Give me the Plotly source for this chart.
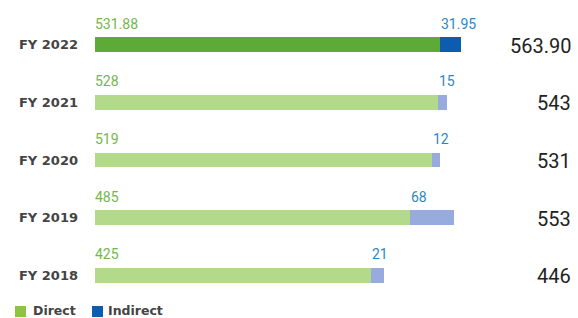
import plotly.graph_objects as go

years = ["FY 2018", "FY 2019", "FY 2020", "FY 2021", "FY 2022"]
direct = [425, 485, 519, 528, 531.88]
indirect = [21, 68, 12, 15, 31.95]
direct_labels = ["425", "485", "519", "528", "531.88"]
indirect_labels = ["21", "68", "12", "15", "31.95"]
totals = ["446", "553", "531", "543", "563.90"]

direct_colors = ["#b3d98b", "#b3d98b", "#b3d98b", "#b3d98b", "#5eaa37"]
indirect_colors = ["#97abdf", "#97abdf", "#97abdf", "#97abdf", "#0c5db0"]
legend_names = ["Direct", "Indirect"]
legend_colors = ["#8cc63f", "#0c5db0"]

W, H = 578, 318
ML, MR, MT, MB = 95, 5, 16, 14
pw, ph = W - ML - MR, H - MT - MB


def px_x(x):
    return (x - ML) / pw


def px_y(y):
    return (H - MB - y) / ph


fig = go.Figure()
fig.add_trace(go.Bar(y=years, x=direct, orientation="h", marker=dict(color=direct_colors, line=dict(width=0)),
                     width=0.26, showlegend=False, hoverinfo="skip"))
fig.add_trace(go.Bar(y=years, x=indirect, orientation="h", marker=dict(color=indirect_colors, line=dict(width=0)),
                     width=0.26, showlegend=False, hoverinfo="skip"))

for i, y in enumerate(years):
    fig.add_annotation(x=0, y=y, xref="x", yref="y", text=direct_labels[i], showarrow=False,
                       xanchor="left", yanchor="middle", yshift=21, xshift=-2,
                       font=dict(size=14, color="#72b84a", family="Roboto"))
    fig.add_annotation(x=direct[i], y=y, xref="x", yref="y", text=indirect_labels[i], showarrow=False,
                       xanchor="left", yanchor="middle", yshift=21, xshift=-1,
                       font=dict(size=14, color="#2f86c6", family="Roboto"))
    fig.add_annotation(x=1, y=y, xref="paper", yref="y", text=totals[i], showarrow=False,
                       xanchor="right", yanchor="middle", yshift=-1,
                       font=dict(size=20, color="#222222", family="Roboto"))

# legend (squares + labels)
sq_left = [15, 92]
txt_left = [31, 106]
for name, col, sx, tx in zip(legend_names, legend_colors, sq_left, txt_left):
    fig.add_shape(type="rect", xref="paper", yref="paper",
                  x0=px_x(sx), x1=px_x(sx + 11), y0=px_y(317), y1=px_y(306),
                  fillcolor=col, line=dict(width=0), layer="above")
    fig.add_annotation(x=px_x(tx), y=px_y(310), xref="paper", yref="paper", text=name,
                       showarrow=False, xanchor="left", yanchor="middle",
                       font=dict(size=12.5, color="#444444", family="DejaVu Sans", weight="bold"))

fig.update_layout(
    width=W, height=H,
    barmode="stack",
    margin=dict(l=ML, r=MR, t=MT, b=MB, autoexpand=False),
    plot_bgcolor="white", paper_bgcolor="white",
    showlegend=False,
    xaxis=dict(range=[0, 736.5], visible=False, fixedrange=True),
    yaxis=dict(categoryorder="array", categoryarray=years, range=[-0.5, 4.5],
               showgrid=False, zeroline=False, showline=False, ticks="",
               ticklabelstandoff=16, fixedrange=True,
               tickfont=dict(size=13, color="#444444", family="DejaVu Sans", weight="bold")),
    font=dict(family="Roboto"),
)

fig.write_html("out.html", config={"displayModeBar": False},
               post_script="document.body.style.margin='0';document.body.style.overflow='hidden';")
